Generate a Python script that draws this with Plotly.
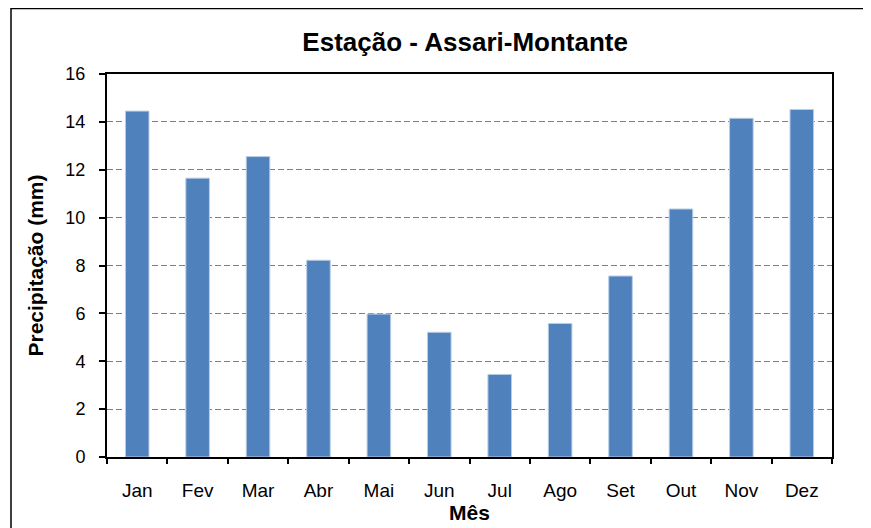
import plotly.graph_objects as go

months = ["Jan", "Fev", "Mar", "Abr", "Mai", "Jun", "Jul", "Ago", "Set", "Out", "Nov", "Dez"]
precip = [14.45, 11.65, 12.55, 8.22, 5.97, 5.21, 3.45, 5.58, 7.56, 10.36, 14.15, 14.52]
y_ticks = [0, 2, 4, 6, 8, 10, 12, 14, 16]

FONT = "Liberation Sans, Arial, sans-serif"

fig = go.Figure(
    go.Bar(
        x=months,
        y=precip,
        marker=dict(color="#4F81BD", line=dict(color="#B9CDE5", width=1)),
    )
)

# page body has an 8px margin; figure is placed at (8, 8)
OFF = 8
W, H = 871 - OFF, 528 - OFF
L, R, T, B = 107 - OFF, 39, 74 - OFF, 71

fig.update_layout(
    width=W,
    height=H,
    margin=dict(l=L, r=R, t=T, b=B, autoexpand=False),
    paper_bgcolor="white",
    plot_bgcolor="white",
    bargap=0.61,
    showlegend=False,
    font=dict(family=FONT, color="black"),
    title=dict(
        text="<b>Estação - Assari-Montante</b>",
        font=dict(family=FONT, size=26, color="black"),
        xref="paper",
        x=0.494,
        xanchor="center",
        yref="container",
        y=1 - (42 - OFF) / H,
        yanchor="middle",
    ),
)

fig.update_xaxes(
    type="category",
    automargin=False,
    showline=True,
    linecolor="black",
    linewidth=2,
    mirror=True,
    ticks="outside",
    tickson="boundaries",
    ticklen=5,
    tickwidth=1.5,
    tickcolor="black",
    tickfont=dict(family=FONT, size=19, color="black"),
    ticklabelstandoff=15,
    showgrid=False,
    title=dict(text="<b>Mês</b>", font=dict(family=FONT, size=21, color="black"), standoff=6),
)

fig.update_yaxes(
    range=[0, 16],
    tickvals=y_ticks,
    automargin=False,
    showline=True,
    linecolor="black",
    linewidth=2,
    mirror=True,
    ticks="outside",
    ticklen=6,
    tickwidth=1.5,
    tickcolor="black",
    tickfont=dict(family=FONT, size=18, color="black"),
    ticklabelstandoff=10,
    showgrid=True,
    gridcolor="#808080",
    gridwidth=1.2,
    griddash="6px,3px",
    zeroline=False,
    title=dict(text="<b>Precipitação (mm)</b>", font=dict(family=FONT, size=21, color="black"), standoff=16),
)

# outer chart frame (page x=11, page y=7)
pw, ph = W - L - R, H - T - B
fig.add_shape(
    type="rect",
    xref="paper", yref="paper",
    x0=(11 - OFF - L) / pw, x1=(W + 20 - L) / pw,
    y0=-(B + 20) / ph, y1=(ph + T - 0.5) / ph,
    line=dict(color="black", width=1.5),
    fillcolor="rgba(0,0,0,0)",
    layer="above",
)

fig.write_html("out.html")
